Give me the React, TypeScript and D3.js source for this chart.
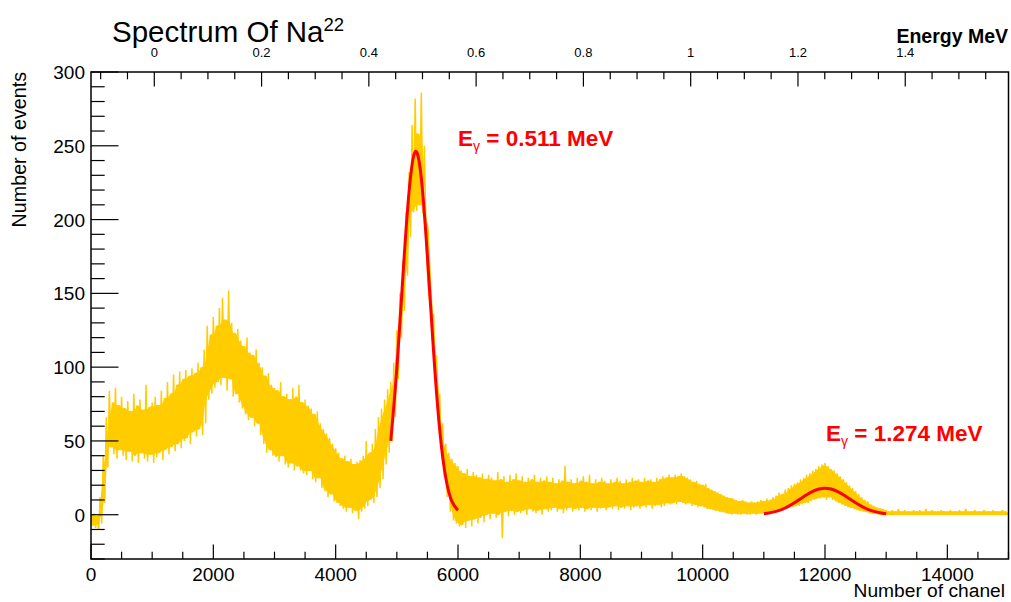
import React from 'react';
import * as d3 from 'd3';

// ---------- data ----------
const BIN_WIDTH = 50; // channels per displayed bin
// per-bin upper edge of the spectrum band (events)
const binHigh = [
  0, 1, -1, 12, 40, 66, 84, 76, 86, 74,
  80, 72, 77, 70, 82, 74, 78, 71, 88, 73,
  76, 80, 74, 84, 79, 90, 82, 95, 88, 97,
  92, 98, 94, 99, 96, 103, 100, 112, 128, 122,
  134, 128, 140, 147, 132, 152, 130, 123, 126, 118,
  114, 120, 110, 108, 112, 103, 100, 94, 96, 88,
  86, 84, 90, 80, 82, 78, 86, 80, 88, 76,
  78, 74, 72, 68, 70, 62, 58, 55, 52, 48,
  45, 42, 38, 40, 36, 38, 34, 36, 37, 40,
  50, 42, 48, 58, 66, 72, 78, 85, 90, 103,
  125, 150, 172, 205, 232, 264, 282, 258, 286, 250,
  192, 152, 136, 108, 82, 62, 48, 42, 38, 35,
  33, 30, 28, 31, 26, 29, 27, 25, 28, 24,
  27, 25, 23, 29, 24, 26, 22, 27, 24, 28,
  23, 26, 22, 25, 24, 27, 22, 25, 23, 26,
  22, 25, 21, 24, 23, 33, 22, 24, 21, 25,
  23, 26, 22, 27, 21, 24, 22, 25, 23, 21,
  24, 22, 25, 23, 21, 24, 22, 25, 23, 24,
  22, 25, 23, 24, 22, 25, 24, 26, 25, 27,
  25, 27, 26, 28, 26, 25, 24, 22, 23, 21,
  20, 21, 18, 17, 16, 15, 14, 13, 12, 11,
  11, 10, 9, 10, 9, 8, 9, 8, 9, 10,
  9, 11, 10, 12, 13, 15, 14, 17, 18, 20,
  21, 22, 24, 25, 27, 28, 30, 31, 33, 34,
  35, 33, 31, 30, 28, 26, 24, 22, 20, 18,
  16, 14, 12, 10, 9, 7, 6, 5, 4, 4,
  3, 2, 3, 2, 4, 2, 3, 2, 2, 3,
  2, 3, 2, 4, 2, 3, 2, 2, 3, 2,
  2, 3, 2, 2, 3, 2, 4, 2, 2, 3,
  2, 2, 3, 2, 2, 3, 2, 2, 3, 2,
];
// per-bin lower edge of the spectrum band (events)
const binLow = [
  -7, -9, -10, -6, 8, 32, 46, 41, 38, 44,
  40, 37, 43, 36, 40, 35, 42, 38, 36, 41,
  35, 39, 42, 37, 44, 41, 46, 43, 48, 45,
  50, 52, 48, 56, 53, 58, 54, 62, 78, 82,
  86, 90, 88, 93, 84, 92, 80, 82, 76, 72,
  68, 64, 66, 60, 62, 54, 48, 42, 44, 40,
  39, 36, 40, 34, 32, 35, 30, 33, 30, 28,
  27, 30, 24, 22, 25, 18, 16, 12, 14, 9,
  8, 6, 4, 2, 5, 1, 3, -3, 2, 4,
  6, 10, 8, 12, 18, 24, 34, 42, 50, 66,
  92, 120, 138, 162, 188, 205, 206, 210, 204, 194,
  150, 118, 94, 64, 44, 26, 12, 2, -4, -6,
  -8, -7, -9, -4, -8, -3, -6, -2, -5, 0,
  -3, 1, -2, 0, -16, 2, -1, 3, 0, 2,
  1, 3, 0, 4, 2, 1, 3, 0, 4, 2,
  3, 5, 2, 4, 1, 3, 5, 2, 4, 3,
  5, 2, 4, 3, 5, 2, 4, 5, 3, 5,
  4, 6, 3, 5, 4, 6, 3, 5, 6, 4,
  6, 5, 7, 4, 6, 7, 5, 6, 8, 7,
  8, 7, 9, 8, 7, 8, 6, 7, 5, 6,
  5, 4, 4, 3, 3, 2, 2, 1, 1, 0,
  1, 0, 0, 1, 0, 0, 1, 0, 1, 1,
  1, 2, 2, 2, 3, 3, 4, 4, 5, 5,
  6, 6, 7, 8, 8, 9, 10, 11, 11, 12,
  10, 12, 10, 9, 8, 7, 6, 5, 5, 4,
  3, 3, 2, 2, 1, 1, 1, 0, 0, 0,
  0, 0, 0, 0, 0, 0, 0, 0, 0, 0,
  0, 0, 0, 0, 0, 0, 0, 0, 0, 0,
  0, 0, 0, 0, 0, 0, 0, 0, 0, 0,
  0, 0, 0, 0, 0, 0, 0, 0, 0, 0,
];

// fitted curve, 0.511 MeV peak
const fit1Channels = [4900, 5000, 5100, 5200, 5300, 5400, 5500, 5600, 5700, 5800, 5900, 6000];
const fit1Values = [50, 99, 162, 219, 246, 228, 175, 111, 58, 25, 9, 3];
// fitted curve, 1.274 MeV peak
const fit2Channels = [11000, 11100, 11200, 11300, 11400, 11500, 11600, 11700, 11800, 11900, 12000,
  12100, 12200, 12300, 12400, 12500, 12600, 12700, 12800, 12900, 13000];
const fit2Values = [0.7, 1.3, 2.3, 3.7, 5.7, 8.1, 10.8, 13.5, 15.8, 17.4, 18,
  17.4, 15.8, 13.5, 10.8, 8.1, 5.7, 3.7, 2.3, 1.3, 0.7];

const xTickValues = [0, 2000, 4000, 6000, 8000, 10000, 12000, 14000];
const xTickLabels = ['0', '2000', '4000', '6000', '8000', '10000', '12000', '14000'];
const yTickValues = [0, 50, 100, 150, 200, 250, 300];
const yTickLabels = ['0', '50', '100', '150', '200', '250', '300'];
const eTickValues = [0, 0.2, 0.4, 0.6, 0.8, 1, 1.2, 1.4];
const eTickLabels = ['0', '0.2', '0.4', '0.6', '0.8', '1', '1.2', '1.4'];

const FONT = '"Liberation Sans", Arial, Helvetica, sans-serif';
const YELLOW = '#ffcc00';
const RED = '#ff0000';

export default function App() {
  const W = 1011, H = 602;
  const left = 91, right = 1008.5, top = 72, bottom = 559;
  const x = d3.scaleLinear().domain([0, 15000]).range([left, right]);
  const y = d3.scaleLinear().domain([-30, 300]).range([bottom, top]);
  const e = d3.scaleLinear().domain([-0.118, 1.5925]).range([left, right]);

  const n = binHigh.length;
  // zig-zag through each bin's maximum then minimum (like a dense histogram line)
  const zig: [number, number][] = [];
  binHigh.forEach((h, i) => {
    const c = i * BIN_WIDTH;
    zig.push([c, h]);
    zig.push([c + BIN_WIDTH / 2, binLow[i]]);
  });
  zig.push([15000, binHigh[n - 1]]);
  const histLine = d3.line<[number, number]>().x(d => x(d[0])).y(d => y(d[1]));

  // dense core of the band (between neighbouring extremes)
  const core = binHigh.map((_, i) => {
    const a = Math.max(0, i - 1), b = Math.min(n - 1, i + 1);
    return {
      ch: i * BIN_WIDTH + BIN_WIDTH / 4,
      hi: Math.min(binHigh[a], binHigh[i], binHigh[b]),
      lo: Math.max(binLow[a], binLow[i], binLow[b]),
    };
  });
  const coreArea = d3.area<{ ch: number; hi: number; lo: number }>()
    .x(d => x(d.ch)).y0(d => y(d.lo)).y1(d => y(d.hi));

  const fitLine = d3.line<[number, number]>().x(d => x(d[0])).y(d => y(d[1])).curve(d3.curveNatural);
  const fit1 = fit1Channels.map((c, i) => [c, fit1Values[i]] as [number, number]);
  const fit2 = fit2Channels.map((c, i) => [c, fit2Values[i]] as [number, number]);

  const xMinor = d3.range(0, 15001, 500);
  const yMinor = d3.range(-30, 301, 10);
  const eMinor = d3.range(-0.1, 1.59, 0.05);

  const xMajLen = 14.6, xMinLen = 7.3, yMajLen = 27.5, yMinLen = 13.7;

  return (
    <svg width={W} height={H} style={{ position: 'absolute', left: 0, top: 0, background: '#fff' }}
      fontFamily={FONT}>
      <defs>
        <clipPath id="frame">
          <rect x={left} y={top} width={right - left} height={bottom - top} />
        </clipPath>
      </defs>
      <rect x={0} y={0} width={W} height={H} fill="#fff" />

      <g clipPath="url(#frame)">
        <path d={coreArea(core) || ''} fill={YELLOW} stroke={YELLOW} strokeWidth={1} />
        <path d={histLine(zig) || ''} fill="none" stroke={YELLOW} strokeWidth={1.5} strokeLinejoin="miter" strokeMiterlimit={1} />
        <path d={fitLine(fit1) || ''} fill="none" stroke={RED} strokeWidth={3} />
        <path d={fitLine(fit2) || ''} fill="none" stroke={RED} strokeWidth={3} />
      </g>

      {/* frame */}
      <rect x={left} y={top} width={right - left} height={bottom - top} fill="none" stroke="#000" strokeWidth={1.5} />

      {/* bottom axis ticks */}
      {xMinor.map(v => (
        <line key={'xm' + v} x1={x(v)} x2={x(v)} y1={bottom} y2={bottom - (v % 2000 === 0 ? xMajLen : xMinLen)}
          stroke="#000" strokeWidth={1.2} />
      ))}
      {xTickValues.map((v, i) => (
        <text key={'xl' + v} x={x(v)} y={581} fontSize={19} textAnchor="middle">{xTickLabels[i]}</text>
      ))}
      <text x={1005} y={597} fontSize={19.2} textAnchor="end">Number of chanel</text>

      {/* left axis ticks */}
      {yMinor.map(v => (
        <line key={'ym' + v} x1={left} x2={left + (v % 50 === 0 ? yMajLen : yMinLen)} y1={y(v)} y2={y(v)}
          stroke="#000" strokeWidth={1.2} />
      ))}
      {yTickValues.map((v, i) => (
        <text key={'yl' + v} x={85} y={y(v) + 7} fontSize={19} textAnchor="end">{yTickLabels[i]}</text>
      ))}
      <text transform={`translate(26,${top}) rotate(-90)`} fontSize={19.7} textAnchor="end">Number of events</text>

      {/* top energy axis */}
      {eMinor.map(v => {
        const isMaj = Math.abs(Math.round(v * 5) - v * 5) < 1e-6;
        return (
          <line key={'em' + v.toFixed(2)} x1={e(v)} x2={e(v)} y1={top} y2={top + (isMaj ? 14.6 : 7.3)}
            stroke="#000" strokeWidth={1.2} />
        );
      })}
      {eTickValues.map((v, i) => (
        <text key={'el' + v} x={e(v)} y={57} fontSize={13} textAnchor="middle">{eTickLabels[i]}</text>
      ))}
      <text x={1008} y={43} fontSize={19.5} fontWeight="bold" textAnchor="end">Energy MeV</text>

      {/* title */}
      <text x={112} y={42} fontSize={29.5}>
        Spectrum Of Na<tspan fontSize={18.5} dy={-11}>22</tspan>
      </text>

      {/* annotations */}
      <text x={458} y={146} fontSize={22.5} fontWeight="bold" fill={RED}>
        E<tspan fontSize={14} fontWeight="normal" dy={5}>γ</tspan><tspan dy={-5}> = 0.511 MeV</tspan>
      </text>
      <text x={826} y={441} fontSize={22.5} fontWeight="bold" fill={RED}>
        E<tspan fontSize={14} fontWeight="normal" dy={5}>γ</tspan><tspan dy={-5}> = 1.274 MeV</tspan>
      </text>
    </svg>
  );
}
